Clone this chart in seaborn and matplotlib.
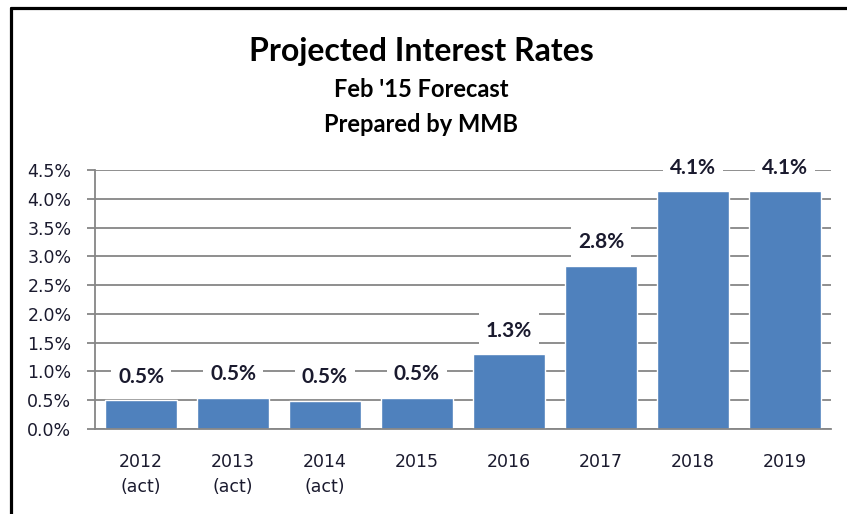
import matplotlib
matplotlib.use("Agg")
import matplotlib.pyplot as plt
import seaborn as sns
import pandas as pd
from matplotlib.lines import Line2D
from matplotlib.ticker import FuncFormatter, MultipleLocator

# ─── Data ────────────────────────────────────────────────────
years = ["2012\n(act)", "2013\n(act)", "2014\n(act)", "2015", "2016", "2017", "2018", "2019"]
rates = [0.50, 0.54, 0.49, 0.54, 1.30, 2.84, 4.13, 4.13]

BAR_COLOR = "#4F81BD"
GRID_COLOR = "#868686"
TEXT_COLOR = "#1a1a2e"

sns.set_theme(style="white")
plt.rcParams["font.family"] = ["DejaVu Sans"]

df = pd.DataFrame({"year": years, "rate": rates})

fig = plt.figure(figsize=(8.47, 5.14), dpi=100)
ax = fig.add_axes([0.1122, 0.1654, 0.8688, 0.5039])

sns.barplot(data=df, x="year", y="rate", color=BAR_COLOR, saturation=1,
            width=0.78, ax=ax, zorder=2)

ax.set_ylim(0, 4.5)
ax.set_xlim(-0.5, len(years) - 0.5)
ax.yaxis.set_major_locator(MultipleLocator(0.5))
ax.yaxis.set_major_formatter(FuncFormatter(lambda v, _: f"{v:.1f}%"))
ax.grid(axis="y", color=GRID_COLOR, linewidth=1.3, zorder=0)
ax.set_axisbelow(True)
ax.set_xlabel("")
ax.set_ylabel("")

for side in ["top", "right"]:
    ax.spines[side].set_visible(False)
for side in ["left", "bottom"]:
    ax.spines[side].set_color(GRID_COLOR)
    ax.spines[side].set_linewidth(1.3)

# category boundary tick marks
ax.set_xticks([i - 0.5 for i in range(len(years) + 1)], minor=True)
ax.tick_params(axis="x", which="minor", length=6, width=1.3, color=GRID_COLOR, direction="out")
ax.tick_params(axis="x", which="major", length=0, pad=17, labelsize=12.5, labelcolor=TEXT_COLOR)
ax.tick_params(axis="y", which="major", length=6, width=1.3, color=GRID_COLOR,
               direction="out", left=True, pad=11, labelsize=12.5, labelcolor=TEXT_COLOR)
for lbl in ax.get_xticklabels():
    lbl.set_linespacing(1.5)
    lbl.set_verticalalignment("top")

# value labels with white boxes
for i, v in enumerate(rates):
    ax.annotate(f"{v:.1f}%", xy=(i, v), xytext=(0, 17), textcoords="offset points",
                ha="center", va="center", fontsize=15, fontweight="bold",
                color=TEXT_COLOR, family="Lato", zorder=5,
                bbox=dict(boxstyle="square,pad=0.35", fc="white", ec="none"))

# titles
fig.text(0.497, 0.900, "Projected Interest Rates", ha="center", va="center",
         fontsize=23, fontweight="bold", family="Lato", color="black")
fig.text(0.497, 0.825, "Feb '15 Forecast", ha="center", va="center",
         fontsize=17, fontweight="bold", family="Lato", color="black")
fig.text(0.497, 0.757, "Prepared by MMB", ha="center", va="center",
         fontsize=17, fontweight="bold", family="Lato", color="black")

# chart frame (top and left edges visible)
fig.add_artist(Line2D([10.5 / 847, 1], [1 - 7.5 / 514, 1 - 7.5 / 514],
                      transform=fig.transFigure, color="black", linewidth=2.3))
fig.add_artist(Line2D([10.5 / 847, 10.5 / 847], [0, 1 - 7.5 / 514],
                      transform=fig.transFigure, color="black", linewidth=2.3))

fig.savefig("out.png", dpi=100)
